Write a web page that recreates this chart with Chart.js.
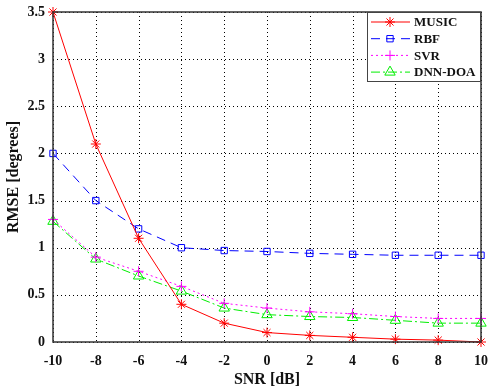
<!DOCTYPE html>
<html>
<head>
<meta charset="utf-8">
<script src="https://cdn.jsdelivr.net/npm/chart.js@4"></script>
<style>
  html, body { margin: 0; padding: 0; background: #fff; }
  #wrap { width: 488px; height: 386px; }
</style>
</head>
<body>
<div id="wrap"><canvas id="rmseChart" width="488" height="386"></canvas></div>
<script>
const snr = [-10, -8, -6, -4, -2, 0, 2, 4, 6, 8, 10];
const music = [3.5, 2.1, 1.1, 0.4, 0.2, 0.1, 0.07, 0.05, 0.03, 0.02, 0.0];
const rbf = [2.0, 1.5, 1.2, 1.0, 0.97, 0.96, 0.94, 0.93, 0.92, 0.92, 0.92];
const svr = [1.3, 0.9, 0.75, 0.59, 0.41, 0.36, 0.32, 0.3, 0.27, 0.25, 0.25];
const dnn = [1.28, 0.88, 0.7, 0.54, 0.36, 0.29, 0.27, 0.26, 0.23, 0.2, 0.2];
const yTicks = [0, 0.5, 1, 1.5, 2, 2.5, 3, 3.5];

const font = 'Liberation Serif';
const pts = arr => arr.map((v, i) => ({ x: snr[i], y: v }));

const series = [
    { label: 'MUSIC', data: music, color: '#ff0000', dash: [], style: 'star', size: 5 },
    { label: 'RBF', data: rbf, color: '#0000ff', dash: [9, 6], style: 'rect', size: 4.5 },
    { label: 'SVR', data: svr, color: '#ff00ff', dash: [2, 3], style: 'cross', size: 5 },
    { label: 'DNN-DOA', data: dnn, color: '#00ee00', dash: [9, 3, 2, 3], style: 'triangle', size: 6 }
];

// dotted grid, drawn from the scales' own tick positions
const dottedGrid = {
    id: 'dottedGrid',
    beforeDatasetsDraw(chart) {
        const { ctx, chartArea: a, scales } = chart;
        ctx.save();
        ctx.strokeStyle = '#000';
        ctx.lineWidth = 1;
        ctx.setLineDash([1, 3]);
        scales.x.ticks.forEach(t => {
            const px = Math.round(scales.x.getPixelForValue(t.value)) + 0.5;
            ctx.beginPath();
            ctx.moveTo(px, a.top);
            ctx.lineTo(px, a.bottom);
            ctx.stroke();
        });
        scales.y.ticks.forEach(t => {
            const py = Math.round(scales.y.getPixelForValue(t.value)) + 0.5;
            ctx.beginPath();
            ctx.moveTo(a.left, py);
            ctx.lineTo(a.right, py);
            ctx.stroke();
        });
        ctx.restore();
    }
};

// box around plot + legend inside top right
const boxLegend = {
    id: 'boxLegend',
    afterDraw(chart) {
        const { ctx, chartArea: a } = chart;
        ctx.save();
        ctx.strokeStyle = '#333';
        ctx.lineWidth = 1.5;
        ctx.setLineDash([]);
        ctx.strokeRect(a.left, a.top, a.right - a.left, a.bottom - a.top);

        const lw = 114, lh = 70;
        const lx = a.right - lw, ly = a.top;
        ctx.fillStyle = '#fff';
        ctx.fillRect(lx, ly, lw, lh);
        ctx.strokeStyle = '#444';
        ctx.lineWidth = 1;
        ctx.strokeRect(lx + 0.5, ly + 0.5, lw - 1, lh - 1);

        ctx.font = 'bold 13px "' + font + '"';
        ctx.textBaseline = 'middle';
        series.forEach((s, i) => {
            const yy = ly + 10 + i * 16.7;
            ctx.strokeStyle = s.color;
            ctx.lineWidth = 1;
            ctx.setLineDash(s.dash);
            ctx.beginPath();
            ctx.moveTo(lx + 4, yy);
            ctx.lineTo(lx + 43, yy);
            ctx.stroke();
            ctx.setLineDash([]);
            ctx.fillStyle = 'rgba(0,0,0,0)';
            Chart.helpers.drawPoint(ctx, { pointStyle: s.style, radius: s.size, borderWidth: 1 }, lx + 23, yy);
            ctx.fillStyle = '#111';
            ctx.fillText(s.label, lx + 47, yy + 1);
        });
        ctx.restore();
    }
};

const noGrid = { color: 'rgba(0,0,0,0)', lineWidth: 1, drawTicks: false };

const ctx = document.getElementById('rmseChart').getContext('2d');
new Chart(ctx, {
    type: 'line',
    data: {
        datasets: series.map(s => ({
            label: s.label,
            data: pts(s.data),
            borderColor: s.color,
            backgroundColor: 'rgba(0,0,0,0)',
            borderWidth: 1,
            borderDash: s.dash,
            pointStyle: s.style,
            pointRadius: s.size,
            pointBorderColor: s.color,
            pointBorderWidth: 1,
            pointBackgroundColor: 'rgba(0,0,0,0)',
            tension: 0,
            clip: false
        }))
    },
    options: {
        responsive: false,
        animation: false,
        layout: { padding: { top: 12, right: 7, left: 0, bottom: 0 } },
        plugins: { legend: { display: false }, tooltip: { enabled: false } },
        scales: {
            x: {
                type: 'linear',
                min: -10, max: 10,
                afterBuildTicks: sc => { sc.ticks = snr.map(v => ({ value: v })); },
                afterFit: sc => { sc.height = 44; sc.paddingLeft = 0; sc.paddingRight = 0; },
                grid: noGrid,
                border: { display: false },
                ticks: { color: '#111', font: { family: font, size: 14, weight: 'bold' }, padding: 11, maxRotation: 0,
                         callback: v => String(v) },
                title: { display: true, text: 'SNR [dB]', color: '#111', font: { family: font, size: 16, weight: 'bold' }, padding: { top: 0, bottom: -3 } }
            },
            y: {
                min: 0, max: 3.5,
                afterBuildTicks: sc => { sc.ticks = yTicks.map(v => ({ value: v })); },
                afterFit: sc => { sc.width = 53; sc.paddingTop = 0; sc.paddingBottom = 0; },
                grid: noGrid,
                border: { display: false },
                ticks: { color: '#111', font: { family: font, size: 14, weight: 'bold' }, padding: 8,
                         callback: v => String(v) },
                title: { display: true, text: 'RMSE [degrees]', color: '#111', font: { family: font, size: 16, weight: 'bold' }, padding: { top: 4, bottom: 0 } }
            }
        }
    },
    plugins: [dottedGrid, boxLegend]
});
</script>
</body>
</html>
